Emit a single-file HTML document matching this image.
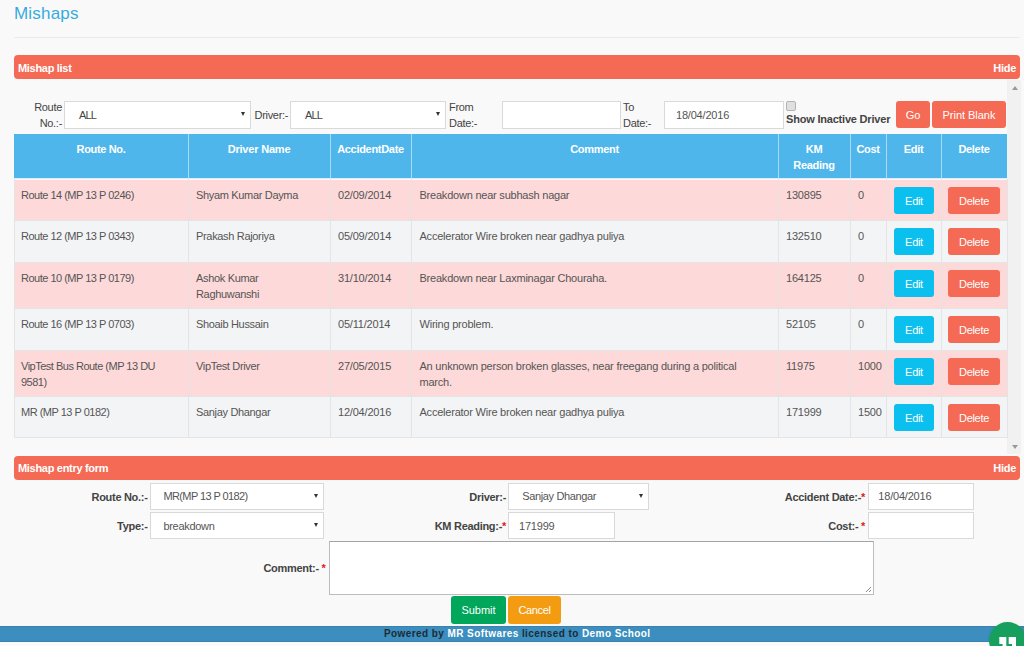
<!DOCTYPE html>
<html><head><meta charset="utf-8"><style>
*{box-sizing:border-box;margin:0;padding:0}
html,body{width:1024px;height:646px;overflow:hidden;background:#f9f9f9;font-family:"Liberation Sans",sans-serif;color:#333;position:relative}
.a{position:absolute}
.t{white-space:nowrap}
.bx{background:#fff;border:1px solid #d9d9d9}
.btn{border-radius:3px}
</style></head><body>
<div class="a t" style="left:14.00px;top:0.76px;font-size:17px;line-height:25.5px;color:#37abde;letter-spacing:0.2px;">Mishaps</div>
<div class="a" style="left:14px;top:37px;width:1006px;height:1px;background:#ececec;"></div>
<div class="a" style="left:14px;top:55.1px;width:1006px;height:24.4px;background:#f46a55;border-radius:4px"></div>
<div class="a t" style="left:18.00px;top:59.64px;font-size:11px;line-height:16.5px;font-weight:700;color:#fff;letter-spacing:-0.3px;">Mishap list</div>
<div class="a t" style="left:956.00px;top:59.64px;font-size:11px;line-height:16.5px;font-weight:700;color:#fff;letter-spacing:-0.3px;text-align:right;width:60px;">Hide</div>
<div class="a t" style="left:2.00px;top:98.64px;font-size:11px;line-height:16.5px;color:#444;letter-spacing:-0.3px;text-align:right;width:60px;">Route</div>
<div class="a t" style="left:2.00px;top:114.64px;font-size:11px;line-height:16.5px;color:#444;letter-spacing:-0.3px;text-align:right;width:60px;">No.:-</div>
<div class="a" style="left:64px;top:101px;width:187px;height:28px;background:#fff;border:1px solid #d9d9d9"></div>
<div class="a t" style="left:79.00px;top:106.94px;font-size:11px;line-height:16.5px;color:#444;letter-spacing:-0.9px;">ALL</div>
<div class="a" style="left:240.5px;top:111.8px;width:0;height:0;border-left:2.5px solid transparent;border-right:2.5px solid transparent;border-top:4.5px solid #333"></div>
<div class="a t" style="left:254.50px;top:106.94px;font-size:11px;line-height:16.5px;color:#444;letter-spacing:-0.3px;">Driver:-</div>
<div class="a" style="left:290px;top:101px;width:156px;height:28px;background:#fff;border:1px solid #d9d9d9"></div>
<div class="a t" style="left:305.00px;top:106.94px;font-size:11px;line-height:16.5px;color:#444;letter-spacing:-0.9px;">ALL</div>
<div class="a" style="left:435.5px;top:111.8px;width:0;height:0;border-left:2.5px solid transparent;border-right:2.5px solid transparent;border-top:4.5px solid #333"></div>
<div class="a t" style="left:449.00px;top:98.64px;font-size:11px;line-height:16.5px;color:#444;letter-spacing:-0.3px;">From</div>
<div class="a t" style="left:449.00px;top:114.64px;font-size:11px;line-height:16.5px;color:#444;letter-spacing:-0.3px;">Date:-</div>
<div class="a" style="left:502px;top:101px;width:119px;height:28px;background:#fff;border:1px solid #d9d9d9"></div>
<div class="a t" style="left:623.00px;top:98.64px;font-size:11px;line-height:16.5px;color:#444;letter-spacing:-0.3px;">To</div>
<div class="a t" style="left:623.00px;top:114.64px;font-size:11px;line-height:16.5px;color:#444;letter-spacing:-0.3px;">Date:-</div>
<div class="a" style="left:664px;top:101px;width:120px;height:28px;background:#fff;border:1px solid #d9d9d9"></div>
<div class="a t" style="left:676.00px;top:106.94px;font-size:11px;line-height:16.5px;color:#555;letter-spacing:-0.2px;">18/04/2016</div>
<div class="a" style="left:786px;top:101px;width:9.5px;height:9.5px;background:#e0e0e0;border:1px solid #b3b3b3;border-radius:2px"></div>
<div class="a t" style="left:786.00px;top:111.44px;font-size:11px;line-height:16.5px;font-weight:700;color:#444;letter-spacing:-0.2px;">Show Inactive Driver</div>
<div class="a" style="left:896px;top:101px;width:34px;height:27px;background:#f46a55;border-radius:3px"></div>
<div class="a t" style="left:896.00px;top:106.94px;font-size:11px;line-height:16.5px;color:#fff;text-align:center;width:34px;">Go</div>
<div class="a" style="left:932px;top:101px;width:74px;height:27px;background:#f46a55;border-radius:3px"></div>
<div class="a t" style="left:932.00px;top:106.94px;font-size:11px;line-height:16.5px;color:#fff;letter-spacing:-0.03px;text-align:center;width:74px;">Print Blank</div>
<div class="a" style="left:1007px;top:80px;width:14px;height:374px;background:#f1f1f1;"></div>
<div class="a" style="left:1011.5px;top:86px;width:0;height:0;border-left:3px solid transparent;border-right:3px solid transparent;border-bottom:4px solid #9a9a9a"></div>
<div class="a" style="left:1011.5px;top:445px;width:0;height:0;border-left:3px solid transparent;border-right:3px solid transparent;border-top:4px solid #9a9a9a"></div>
<div class="a" style="left:14px;top:133.5px;width:993px;height:45.5px;background:#4fb6ec;"></div>
<div class="a" style="left:188px;top:133.5px;width:1px;height:45.5px;background:#a9dbf4;"></div>
<div class="a" style="left:330px;top:133.5px;width:1px;height:45.5px;background:#a9dbf4;"></div>
<div class="a" style="left:411px;top:133.5px;width:1px;height:45.5px;background:#a9dbf4;"></div>
<div class="a" style="left:778px;top:133.5px;width:1px;height:45.5px;background:#a9dbf4;"></div>
<div class="a" style="left:850px;top:133.5px;width:1px;height:45.5px;background:#a9dbf4;"></div>
<div class="a" style="left:886px;top:133.5px;width:1px;height:45.5px;background:#a9dbf4;"></div>
<div class="a" style="left:941px;top:133.5px;width:1px;height:45.5px;background:#a9dbf4;"></div>
<div class="a" style="left:14px;top:178px;width:993px;height:1px;background:#dcedf8;"></div>
<div class="a t" style="left:14.00px;top:140.74px;font-size:11px;line-height:16.5px;font-weight:700;color:#fff;letter-spacing:-0.33px;text-align:center;width:174px;">Route No.</div>
<div class="a t" style="left:188.00px;top:140.74px;font-size:11px;line-height:16.5px;font-weight:700;color:#fff;letter-spacing:-0.2px;text-align:center;width:142px;">Driver Name</div>
<div class="a t" style="left:330.00px;top:140.74px;font-size:11px;line-height:16.5px;font-weight:700;color:#fff;letter-spacing:-0.3px;text-align:center;width:81px;">AccidentDate</div>
<div class="a t" style="left:411.00px;top:140.74px;font-size:11px;line-height:16.5px;font-weight:700;color:#fff;letter-spacing:-0.3px;text-align:center;width:367px;">Comment</div>
<div class="a t" style="left:778.00px;top:140.74px;font-size:11px;line-height:16.5px;font-weight:700;color:#fff;letter-spacing:-0.3px;text-align:center;width:72px;">KM</div>
<div class="a t" style="left:778.00px;top:156.94px;font-size:11px;line-height:16.5px;font-weight:700;color:#fff;letter-spacing:-0.3px;text-align:center;width:72px;">Reading</div>
<div class="a t" style="left:850.00px;top:140.74px;font-size:11px;line-height:16.5px;font-weight:700;color:#fff;letter-spacing:-0.3px;text-align:center;width:36px;">Cost</div>
<div class="a t" style="left:886.00px;top:140.74px;font-size:11px;line-height:16.5px;font-weight:700;color:#fff;letter-spacing:-0.3px;text-align:center;width:55px;">Edit</div>
<div class="a t" style="left:941.00px;top:140.74px;font-size:11px;line-height:16.5px;font-weight:700;color:#fff;letter-spacing:-0.3px;text-align:center;width:66px;">Delete</div>
<div class="a" style="left:14px;top:180px;width:993px;height:40px;background:#fdd9d9;"></div>
<div class="a" style="left:14px;top:221px;width:993px;height:41px;background:#f3f4f5;"></div>
<div class="a" style="left:14px;top:263px;width:993px;height:45px;background:#fdd9d9;"></div>
<div class="a" style="left:14px;top:309px;width:993px;height:41px;background:#f3f4f5;"></div>
<div class="a" style="left:14px;top:351px;width:993px;height:45px;background:#fdd9d9;"></div>
<div class="a" style="left:14px;top:397px;width:993px;height:40px;background:#f3f4f5;"></div>
<div class="a" style="left:14px;top:220px;width:993px;height:1px;background:#e4e4e4;"></div>
<div class="a" style="left:14px;top:262px;width:993px;height:1px;background:#e4e4e4;"></div>
<div class="a" style="left:14px;top:308px;width:993px;height:1px;background:#e4e4e4;"></div>
<div class="a" style="left:14px;top:350px;width:993px;height:1px;background:#e4e4e4;"></div>
<div class="a" style="left:14px;top:396px;width:993px;height:1px;background:#e4e4e4;"></div>
<div class="a" style="left:14px;top:437px;width:993px;height:1px;background:#e4e4e4;"></div>
<div class="a" style="left:14px;top:179px;width:1px;height:259px;background:#e4e4e4;"></div>
<div class="a" style="left:188px;top:179px;width:1px;height:259px;background:#e4e4e4;"></div>
<div class="a" style="left:330px;top:179px;width:1px;height:259px;background:#e4e4e4;"></div>
<div class="a" style="left:411px;top:179px;width:1px;height:259px;background:#e4e4e4;"></div>
<div class="a" style="left:778px;top:179px;width:1px;height:259px;background:#e4e4e4;"></div>
<div class="a" style="left:850px;top:179px;width:1px;height:259px;background:#e4e4e4;"></div>
<div class="a" style="left:886px;top:179px;width:1px;height:259px;background:#e4e4e4;"></div>
<div class="a" style="left:941px;top:179px;width:1px;height:259px;background:#e4e4e4;"></div>
<div class="a" style="left:1007px;top:179px;width:1px;height:259px;background:#e4e4e4;"></div>
<div class="a t" style="left:21.00px;top:187.24px;font-size:11px;line-height:16.5px;color:#555;letter-spacing:-0.5px;">Route 14 (MP 13 P 0246)</div>
<div class="a t" style="left:196.00px;top:187.24px;font-size:11px;line-height:16.5px;color:#555;letter-spacing:-0.33px;">Shyam Kumar Dayma</div>
<div class="a t" style="left:338.00px;top:187.24px;font-size:11px;line-height:16.5px;color:#555;letter-spacing:-0.2px;">02/09/2014</div>
<div class="a t" style="left:419.50px;top:187.24px;font-size:11px;line-height:16.5px;color:#555;letter-spacing:-0.22px;">Breakdown near subhash nagar</div>
<div class="a t" style="left:786.00px;top:187.24px;font-size:11px;line-height:16.5px;color:#555;letter-spacing:-0.2px;">130895</div>
<div class="a t" style="left:858.00px;top:187.24px;font-size:11px;line-height:16.5px;color:#555;letter-spacing:-0.2px;">0</div>
<div class="a" style="left:894px;top:186.6px;width:40px;height:27.3px;background:#0bbfee;border-radius:3px"></div>
<div class="a t" style="left:894.00px;top:192.74px;font-size:11px;line-height:16.5px;color:#fff;letter-spacing:-0.3px;text-align:center;width:40px;">Edit</div>
<div class="a" style="left:948px;top:186.6px;width:52px;height:27.3px;background:#f46a55;border-radius:3px"></div>
<div class="a t" style="left:948.00px;top:192.74px;font-size:11px;line-height:16.5px;color:#fff;letter-spacing:-0.3px;text-align:center;width:52px;">Delete</div>
<div class="a t" style="left:21.00px;top:228.24px;font-size:11px;line-height:16.5px;color:#555;letter-spacing:-0.5px;">Route 12 (MP 13 P 0343)</div>
<div class="a t" style="left:196.00px;top:228.24px;font-size:11px;line-height:16.5px;color:#555;letter-spacing:-0.33px;">Prakash Rajoriya</div>
<div class="a t" style="left:338.00px;top:228.24px;font-size:11px;line-height:16.5px;color:#555;letter-spacing:-0.2px;">05/09/2014</div>
<div class="a t" style="left:419.50px;top:228.24px;font-size:11px;line-height:16.5px;color:#555;letter-spacing:-0.22px;">Accelerator Wire broken near gadhya puliya</div>
<div class="a t" style="left:786.00px;top:228.24px;font-size:11px;line-height:16.5px;color:#555;letter-spacing:-0.2px;">132510</div>
<div class="a t" style="left:858.00px;top:228.24px;font-size:11px;line-height:16.5px;color:#555;letter-spacing:-0.2px;">0</div>
<div class="a" style="left:894px;top:227.6px;width:40px;height:27.3px;background:#0bbfee;border-radius:3px"></div>
<div class="a t" style="left:894.00px;top:233.74px;font-size:11px;line-height:16.5px;color:#fff;letter-spacing:-0.3px;text-align:center;width:40px;">Edit</div>
<div class="a" style="left:948px;top:227.6px;width:52px;height:27.3px;background:#f46a55;border-radius:3px"></div>
<div class="a t" style="left:948.00px;top:233.74px;font-size:11px;line-height:16.5px;color:#fff;letter-spacing:-0.3px;text-align:center;width:52px;">Delete</div>
<div class="a t" style="left:21.00px;top:270.24px;font-size:11px;line-height:16.5px;color:#555;letter-spacing:-0.5px;">Route 10 (MP 13 P 0179)</div>
<div class="a t" style="left:196.00px;top:270.24px;font-size:11px;line-height:16.5px;color:#555;letter-spacing:-0.33px;">Ashok Kumar</div>
<div class="a t" style="left:196.00px;top:286.34px;font-size:11px;line-height:16.5px;color:#555;letter-spacing:-0.33px;">Raghuwanshi</div>
<div class="a t" style="left:338.00px;top:270.24px;font-size:11px;line-height:16.5px;color:#555;letter-spacing:-0.2px;">31/10/2014</div>
<div class="a t" style="left:419.50px;top:270.24px;font-size:11px;line-height:16.5px;color:#555;letter-spacing:-0.22px;">Breakdown near Laxminagar Chouraha.</div>
<div class="a t" style="left:786.00px;top:270.24px;font-size:11px;line-height:16.5px;color:#555;letter-spacing:-0.2px;">164125</div>
<div class="a t" style="left:858.00px;top:270.24px;font-size:11px;line-height:16.5px;color:#555;letter-spacing:-0.2px;">0</div>
<div class="a" style="left:894px;top:269.6px;width:40px;height:27.3px;background:#0bbfee;border-radius:3px"></div>
<div class="a t" style="left:894.00px;top:275.74px;font-size:11px;line-height:16.5px;color:#fff;letter-spacing:-0.3px;text-align:center;width:40px;">Edit</div>
<div class="a" style="left:948px;top:269.6px;width:52px;height:27.3px;background:#f46a55;border-radius:3px"></div>
<div class="a t" style="left:948.00px;top:275.74px;font-size:11px;line-height:16.5px;color:#fff;letter-spacing:-0.3px;text-align:center;width:52px;">Delete</div>
<div class="a t" style="left:21.00px;top:316.24px;font-size:11px;line-height:16.5px;color:#555;letter-spacing:-0.5px;">Route 16 (MP 13 P 0703)</div>
<div class="a t" style="left:196.00px;top:316.24px;font-size:11px;line-height:16.5px;color:#555;letter-spacing:-0.33px;">Shoaib Hussain</div>
<div class="a t" style="left:338.00px;top:316.24px;font-size:11px;line-height:16.5px;color:#555;letter-spacing:-0.2px;">05/11/2014</div>
<div class="a t" style="left:419.50px;top:316.24px;font-size:11px;line-height:16.5px;color:#555;letter-spacing:-0.22px;">Wiring problem.</div>
<div class="a t" style="left:786.00px;top:316.24px;font-size:11px;line-height:16.5px;color:#555;letter-spacing:-0.2px;">52105</div>
<div class="a t" style="left:858.00px;top:316.24px;font-size:11px;line-height:16.5px;color:#555;letter-spacing:-0.2px;">0</div>
<div class="a" style="left:894px;top:315.6px;width:40px;height:27.3px;background:#0bbfee;border-radius:3px"></div>
<div class="a t" style="left:894.00px;top:321.74px;font-size:11px;line-height:16.5px;color:#fff;letter-spacing:-0.3px;text-align:center;width:40px;">Edit</div>
<div class="a" style="left:948px;top:315.6px;width:52px;height:27.3px;background:#f46a55;border-radius:3px"></div>
<div class="a t" style="left:948.00px;top:321.74px;font-size:11px;line-height:16.5px;color:#fff;letter-spacing:-0.3px;text-align:center;width:52px;">Delete</div>
<div class="a t" style="left:21.00px;top:358.24px;font-size:11px;line-height:16.5px;color:#555;letter-spacing:-0.5px;">VipTest Bus Route (MP 13 DU</div>
<div class="a t" style="left:21.00px;top:374.34px;font-size:11px;line-height:16.5px;color:#555;letter-spacing:-0.5px;">9581)</div>
<div class="a t" style="left:196.00px;top:358.24px;font-size:11px;line-height:16.5px;color:#555;letter-spacing:-0.33px;">VipTest Driver</div>
<div class="a t" style="left:338.00px;top:358.24px;font-size:11px;line-height:16.5px;color:#555;letter-spacing:-0.2px;">27/05/2015</div>
<div class="a t" style="left:419.50px;top:358.24px;font-size:11px;line-height:16.5px;color:#555;letter-spacing:-0.22px;">An unknown person broken glasses, near freegang during a political</div>
<div class="a t" style="left:419.50px;top:374.34px;font-size:11px;line-height:16.5px;color:#555;letter-spacing:-0.22px;">march.</div>
<div class="a t" style="left:786.00px;top:358.24px;font-size:11px;line-height:16.5px;color:#555;letter-spacing:-0.2px;">11975</div>
<div class="a t" style="left:858.00px;top:358.24px;font-size:11px;line-height:16.5px;color:#555;letter-spacing:-0.2px;">1000</div>
<div class="a" style="left:894px;top:357.6px;width:40px;height:27.3px;background:#0bbfee;border-radius:3px"></div>
<div class="a t" style="left:894.00px;top:363.74px;font-size:11px;line-height:16.5px;color:#fff;letter-spacing:-0.3px;text-align:center;width:40px;">Edit</div>
<div class="a" style="left:948px;top:357.6px;width:52px;height:27.3px;background:#f46a55;border-radius:3px"></div>
<div class="a t" style="left:948.00px;top:363.74px;font-size:11px;line-height:16.5px;color:#fff;letter-spacing:-0.3px;text-align:center;width:52px;">Delete</div>
<div class="a t" style="left:21.00px;top:404.24px;font-size:11px;line-height:16.5px;color:#555;letter-spacing:-0.5px;">MR (MP 13 P 0182)</div>
<div class="a t" style="left:196.00px;top:404.24px;font-size:11px;line-height:16.5px;color:#555;letter-spacing:-0.33px;">Sanjay Dhangar</div>
<div class="a t" style="left:338.00px;top:404.24px;font-size:11px;line-height:16.5px;color:#555;letter-spacing:-0.2px;">12/04/2016</div>
<div class="a t" style="left:419.50px;top:404.24px;font-size:11px;line-height:16.5px;color:#555;letter-spacing:-0.22px;">Accelerator Wire broken near gadhya puliya</div>
<div class="a t" style="left:786.00px;top:404.24px;font-size:11px;line-height:16.5px;color:#555;letter-spacing:-0.2px;">171999</div>
<div class="a t" style="left:858.00px;top:404.24px;font-size:11px;line-height:16.5px;color:#555;letter-spacing:-0.2px;">1500</div>
<div class="a" style="left:894px;top:403.6px;width:40px;height:27.3px;background:#0bbfee;border-radius:3px"></div>
<div class="a t" style="left:894.00px;top:409.74px;font-size:11px;line-height:16.5px;color:#fff;letter-spacing:-0.3px;text-align:center;width:40px;">Edit</div>
<div class="a" style="left:948px;top:403.6px;width:52px;height:27.3px;background:#f46a55;border-radius:3px"></div>
<div class="a t" style="left:948.00px;top:409.74px;font-size:11px;line-height:16.5px;color:#fff;letter-spacing:-0.3px;text-align:center;width:52px;">Delete</div>
<div class="a" style="left:14px;top:455.6px;width:1006px;height:24px;background:#f46a55;border-radius:4px"></div>
<div class="a t" style="left:18.00px;top:460.14px;font-size:11px;line-height:16.5px;font-weight:700;color:#fff;letter-spacing:-0.3px;">Mishap entry form</div>
<div class="a t" style="left:956.00px;top:460.14px;font-size:11px;line-height:16.5px;font-weight:700;color:#fff;letter-spacing:-0.3px;text-align:right;width:60px;">Hide</div>
<div class="a t" style="left:-2.50px;top:488.54px;font-size:11px;line-height:16.5px;font-weight:700;color:#444;letter-spacing:-0.3px;text-align:right;width:150px;">Route No.:-</div>
<div class="a" style="left:150px;top:483px;width:174px;height:27px;background:#fff;border:1px solid #d9d9d9"></div>
<div class="a t" style="left:163.40px;top:488.44px;font-size:11px;line-height:16.5px;color:#555;letter-spacing:-0.6px;">MR(MP 13 P 0182)</div>
<div class="a" style="left:313.5px;top:493.8px;width:0;height:0;border-left:2.5px solid transparent;border-right:2.5px solid transparent;border-top:4.5px solid #333"></div>
<div class="a t" style="left:-2.50px;top:517.64px;font-size:11px;line-height:16.5px;font-weight:700;color:#444;letter-spacing:-0.3px;text-align:right;width:150px;">Type:-</div>
<div class="a" style="left:150px;top:512px;width:174px;height:27px;background:#fff;border:1px solid #d9d9d9"></div>
<div class="a t" style="left:163.40px;top:517.64px;font-size:11px;line-height:16.5px;color:#555;letter-spacing:-0.3px;">breakdown</div>
<div class="a" style="left:313.5px;top:522.8px;width:0;height:0;border-left:2.5px solid transparent;border-right:2.5px solid transparent;border-top:4.5px solid #333"></div>
<div class="a t" style="left:356.00px;top:488.54px;font-size:11px;line-height:16.5px;font-weight:700;color:#444;letter-spacing:-0.3px;text-align:right;width:150px;">Driver:-</div>
<div class="a" style="left:508px;top:483px;width:141px;height:27px;background:#fff;border:1px solid #d9d9d9"></div>
<div class="a t" style="left:522.20px;top:488.44px;font-size:11px;line-height:16.5px;color:#555;letter-spacing:-0.35px;">Sanjay Dhangar</div>
<div class="a" style="left:638.5px;top:493.8px;width:0;height:0;border-left:2.5px solid transparent;border-right:2.5px solid transparent;border-top:4.5px solid #333"></div>
<div class="a t" style="left:356.00px;top:517.64px;font-size:11px;line-height:16.5px;font-weight:700;color:#444;letter-spacing:-0.3px;text-align:right;width:150px;">KM Reading:-<span style="color:#dd1c1c">*</span></div>
<div class="a" style="left:508px;top:512px;width:107px;height:27px;background:#fff;border:1px solid #d9d9d9"></div>
<div class="a t" style="left:519.00px;top:517.64px;font-size:11px;line-height:16.5px;color:#555;letter-spacing:-0.2px;">171999</div>
<div class="a t" style="left:715.00px;top:488.54px;font-size:11px;line-height:16.5px;font-weight:700;color:#444;letter-spacing:-0.3px;text-align:right;width:150px;">Accident Date:-<span style="color:#dd1c1c">*</span></div>
<div class="a" style="left:868px;top:483px;width:106px;height:27px;background:#fff;border:1px solid #d9d9d9"></div>
<div class="a t" style="left:878.30px;top:488.44px;font-size:11px;line-height:16.5px;color:#555;letter-spacing:-0.2px;">18/04/2016</div>
<div class="a t" style="left:715.00px;top:517.64px;font-size:11px;line-height:16.5px;font-weight:700;color:#444;letter-spacing:-0.3px;text-align:right;width:150px;">Cost:- <span style="color:#dd1c1c">*</span></div>
<div class="a" style="left:868px;top:512px;width:106px;height:27px;background:#fff;border:1px solid #d9d9d9"></div>
<div class="a t" style="left:175.50px;top:559.94px;font-size:11px;line-height:16.5px;font-weight:700;color:#444;letter-spacing:-0.3px;text-align:right;width:150px;">Comment:- <span style="color:#dd1c1c">*</span></div>
<div class="a" style="left:329px;top:541px;width:545px;height:54px;background:#fff;border:1px solid #bdbdbd;border-top-color:#a3a3a3"></div>
<svg class="a" style="left:865px;top:586px" width="7" height="7"><path d="M1 6L6 1M4 6L6 4" stroke="#888" stroke-width="1"/></svg>
<div class="a" style="left:451px;top:596.3px;width:55px;height:27.3px;background:#00a65a;border-radius:3px"></div>
<div class="a t" style="left:451.00px;top:602.44px;font-size:11px;line-height:16.5px;color:#fff;letter-spacing:0px;text-align:center;width:55px;">Submit</div>
<div class="a" style="left:508px;top:596.3px;width:53px;height:27.3px;background:#f39c12;border-radius:3px"></div>
<div class="a t" style="left:508.00px;top:602.44px;font-size:11px;line-height:16.5px;color:#fff;letter-spacing:-0.4px;text-align:center;width:53px;">Cancel</div>
<div class="a" style="left:0px;top:625.8px;width:1024px;height:15.8px;background:#3b8ebe;border-top:1px solid #3a80b0;border-bottom:1px solid #3a80b0"></div>
<div class="a t" style="left:384.00px;top:625.53px;font-size:10px;line-height:15.0px;font-weight:700;color:#1f2a36;letter-spacing:0.42px;">Powered by <span style="color:#fff">MR Softwares</span> licensed to <span style="color:#fff">Demo School</span></div>
<div class="a" style="left:988.8px;top:622.3px;width:37px;height:37px;background:#17a05d;border-radius:50%;box-shadow:0 0 3px rgba(0,0,0,0.08)"></div>
<svg class="a" style="left:998px;top:636px" width="20" height="10"><path d="M1.3 1H8.3V12H4.6V8H1.3Z M10.7 1H18V12H14V8H10.7Z" fill="#fff"/></svg>
</body></html>
